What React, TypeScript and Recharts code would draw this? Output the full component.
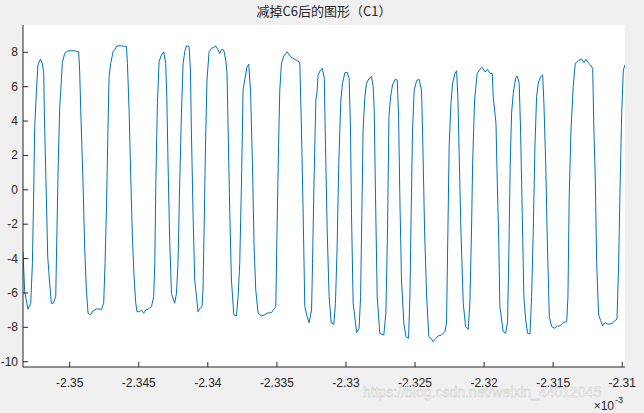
import { CartesianGrid, Line, LineChart, XAxis, YAxis } from "recharts";

// time axis in units of 1e-3 (as MATLAB shows it with the x10^-3 exponent)
const time = [
  -2.35338, -2.35326, -2.35302, -2.35282, -2.3527, -2.35261, -2.35254, -2.35241, -2.3523, -2.35212,
  -2.35198, -2.35188, -2.35183, -2.35169, -2.35159, -2.35145, -2.35133, -2.35118, -2.35101, -2.35092,
  -2.35082, -2.35072, -2.3506, -2.35053, -2.35036, -2.35012, -2.34964, -2.34935, -2.34928, -2.3492,
  -2.34904, -2.34891, -2.34879, -2.34867, -2.3485, -2.34831, -2.34807, -2.3477, -2.34754, -2.34744,
  -2.34734, -2.34723, -2.34715, -2.34703, -2.34686, -2.34657, -2.34626, -2.34589, -2.34582, -2.3457,
  -2.34558, -2.34546, -2.34534, -2.34522, -2.34513, -2.34493, -2.34481, -2.34464, -2.3445, -2.34433,
  -2.34408, -2.34392, -2.34384, -2.34377, -2.3437, -2.34365, -2.34353, -2.34336, -2.34319, -2.34305,
  -2.34297, -2.34288, -2.34276, -2.34263, -2.3424, -2.34227, -2.34216, -2.34203, -2.34191, -2.34179,
  -2.34167, -2.34155, -2.34136, -2.34126, -2.34119, -2.34107, -2.34095, -2.34082, -2.34071, -2.34058,
  -2.34042, -2.34035, -2.34027, -2.34017, -2.34006, -2.33991, -2.33974, -2.33957, -2.33943, -2.33928,
  -2.33914, -2.33901, -2.33885, -2.3387, -2.33861, -2.33853, -2.33841, -2.33829, -2.33812, -2.33793,
  -2.33781, -2.33769, -2.33756, -2.33745, -2.33733, -2.33716, -2.33704, -2.33691, -2.33677, -2.33665,
  -2.33653, -2.33636, -2.33612, -2.33588, -2.33571, -2.33539, -2.33522, -2.33508, -2.33499, -2.33488,
  -2.33479, -2.33467, -2.3345, -2.33426, -2.33401, -2.3337, -2.33334, -2.33322, -2.3331, -2.33298,
  -2.33281, -2.33267, -2.33249, -2.33242, -2.33231, -2.33218, -2.33209, -2.33202, -2.33184, -2.33171,
  -2.33157, -2.33148, -2.33136, -2.33122, -2.33107, -2.33088, -2.33076, -2.33064, -2.33052, -2.33037,
  -2.33025, -2.33008, -2.32992, -2.32977, -2.32967, -2.3296, -2.32948, -2.32936, -2.32923, -2.32905,
  -2.32894, -2.32885, -2.32876, -2.32863, -2.32851, -2.32832, -2.32815, -2.32803, -2.32796, -2.32786,
  -2.32774, -2.32755, -2.32726, -2.32711, -2.32699, -2.32689, -2.32677, -2.32663, -2.32644, -2.32629,
  -2.32619, -2.3261, -2.32598, -2.32581, -2.32566, -2.32547, -2.32537, -2.32528, -2.32518, -2.32506,
  -2.32489, -2.3247, -2.32453, -2.32443, -2.32431, -2.32416, -2.324, -2.32385, -2.32369, -2.32349,
  -2.32332, -2.32308, -2.32284, -2.32272, -2.32262, -2.32253, -2.3224, -2.32228, -2.32211, -2.32199,
  -2.3219, -2.3218, -2.32168, -2.32151, -2.32134, -2.32115, -2.32103, -2.32091, -2.32083, -2.32069,
  -2.3205, -2.3203, -2.32014, -2.31994, -2.31975, -2.31958, -2.31941, -2.31934, -2.31914, -2.31905,
  -2.31893, -2.31886, -2.31873, -2.31862, -2.31844, -2.3183, -2.3182, -2.31811, -2.31801, -2.31789,
  -2.31772, -2.3176, -2.31746, -2.31736, -2.31724, -2.31712, -2.31699, -2.31685, -2.31668, -2.31656,
  -2.31644, -2.31632, -2.3162, -2.31608, -2.31591, -2.31576, -2.31567, -2.31554, -2.31543, -2.31528,
  -2.31511, -2.31487, -2.31471, -2.31451, -2.31427, -2.31402, -2.31393, -2.31384, -2.31371, -2.31355,
  -2.3134, -2.31318, -2.31294, -2.31277, -2.31263, -2.31243, -2.31229, -2.31214, -2.31205, -2.31195,
  -2.31185, -2.31171, -2.31156, -2.31142, -2.31125, -2.31108, -2.31089, -2.31069, -2.31053, -2.31038,
  -2.31026, -2.31016, -2.31004, -2.30992, -2.3098,
];

const volts = [
  -3.6, -5.9, -6.95, -6.6, -4.3, -0.4, 3.5, 5.7, 7.26, 7.6,
  7.36, 6.78, 4.25, -0.4, -3.9, -5.44, -6.6, -6.6, -6.2, -2.3,
  1.9, 4.8, 6.4, 7.4, 7.94, 8.09, 8.09, 8.03, 6.97, 4.64,
  0.57, -3.5, -5.83, -7.18, -7.28, -7.05, -6.93, -6.95, -6.6, -4.28,
  -1.18, 3.48, 6.58, 7.36, 8.03, 8.37, 8.38, 8.33, 7.36, 4.64,
  0.76, -2.73, -5.06, -6.57, -7.09, -7.09, -6.99, -7.18, -6.99, -6.95,
  -6.8, -6.22, -4.28, 0, 3.09, 5.03, 7.45, 7.84, 8.03, 7.36,
  5.42, 1.54, -3.0, -6.05, -6.6, -6.02, -4.28, 0.57, 4.45, 7.36,
  8.03, 8.37, 8.35, 6.97, 3.48, -1.37, -5.25, -6.22, -7.09, -6.9,
  -6.8, -5.83, -2.34, 2.51, 6.39, 8.03, 8.23, 8.29, 8.37, 8.17,
  7.94, 8.17, 8.13, 7.55, 6.78, 3.48, -1.37, -5.25, -7.28, -7.34,
  -6.22, -4.28, 0.57, 5.8, 6.39, 7.16, 7.32, 5.8, 1.54, -3.31,
  -5.83, -7.18, -7.34, -7.28, -7.18, -7.14, -6.95, -6.8, -2.34, 2.51,
  5.8, 7.36, 7.78, 8.03, 7.74, 7.59, 7.42, 3.48, -1.37, -6.8,
  -7.38, -7.73, -6.99, -4.28, 0.57, 5.22, 5.71, 6.68, 6.97, 7.07,
  6.5, 2.51, -2.34, -6.22, -7.73, -7.83, -6.6, -3.31, 1.54, 5.22,
  6.2, 6.81, 6.84, 6.49, 3.48, -1.37, -6.6, -7.38, -8.31, -8.06,
  -6.22, -1.37, 3.48, 5.42, 6.2, 6.49, 6.58, 6.0, 4.83, -0.4,
  -6.22, -8.35, -8.45, -7.18, -2.34, 4.25, 5.42, 6.1, 6.43, 6.39,
  4.25, -0.4, -5.25, -7.77, -8.54, -8.64, -6.22, -1.37, 3.48, 5.8,
  6.35, 6.43, 5.8, 2.51, -2.34, -6.22, -8.54, -8.64, -8.83, -8.64,
  -8.5, -8.45, -8.25, -7.77, -2.34, 2.51, 5.03, 6.2, 6.78, 6.93,
  5.42, 1.93, -2.34, -6.6, -7.96, -8.12, -6.6, -2.34, 1.54, 5.22,
  6.78, 7.01, 7.13, 6.87, 7.01, 6.78, 6.78, 5.42, 3.87, 0.57,
  -3.31, -6.8, -7.57, -8.25, -8.35, -7.67, -3.31, 1.54, 4.45, 5.61,
  6.49, 6.62, 6.2, 3.48, -1.37, -6.22, -7.57, -8.35, -8.39, -6.22,
  -2.34, 2.51, 5.42, 6.2, 6.58, 6.68, 5.03, 1.54, -2.73, -7.38,
  -7.96, -8.06, -7.92, -7.92, -7.73, -7.67, -6.22, -0.4, 3.48, 6.0,
  7.36, 7.51, 7.61, 7.4, 7.59, 7.36, 7.26, 7.07, 3.48, 0.57,
  -4.28, -7.28, -7.61, -7.92, -7.73, -7.81, -7.81, -7.73, -7.61, -7.53,
  -4.28, 0, 4.45, 6.97, 7.26,
];

const xTicks = [-2.35, -2.345, -2.34, -2.335, -2.33, -2.325, -2.32, -2.315, -2.31];
const yTicks = [-10, -8, -6, -4, -2, 0, 2, 4, 6, 8];
const xDomain = [-2.35338, -2.3098];
const yDomain = [-10.31, 9.59];

const title = "减掉C6后的图形（C1）";
const watermark = "https://blog.csdn.net/weixin_44012045";

const data = time.map((t, i) => ({ t, v: volts[i] }));

const AX = "#262626";
const FONT = "'Liberation Sans', Arial, Helvetica, sans-serif";
const TICK_LEN = 5;

function fmt(v: number) {
  return String(Number(v.toFixed(4)));
}

function BottomTick({ x, y, payload }: any) {
  return (
    <g>
      <line x1={x} x2={x} y1={y} y2={y - TICK_LEN} stroke={AX} strokeWidth={1} />
      <text x={x} y={y + 20} textAnchor="middle" fontSize={12} fontFamily={FONT} fill={AX}>
        {fmt(payload.value)}
      </text>
    </g>
  );
}

function TopTick({ x, y }: any) {
  return <line x1={x} x2={x} y1={y} y2={y + TICK_LEN} stroke={AX} strokeWidth={1} />;
}

function LeftTick({ x, y, payload }: any) {
  return (
    <g>
      <line x1={x} x2={x + TICK_LEN} y1={y} y2={y} stroke={AX} strokeWidth={1} />
      <text x={x - 5} y={y + 4} textAnchor="end" fontSize={12} fontFamily={FONT} fill={AX}>
        {payload.value}
      </text>
    </g>
  );
}

function RightTick({ x, y }: any) {
  return <line x1={x} x2={x - TICK_LEN} y1={y} y2={y} stroke={AX} strokeWidth={1} />;
}

function ExponentLabel({ viewBox }: any) {
  const right = viewBox.x + viewBox.width;
  const base = viewBox.y + 43;
  return (
    <g fontFamily={FONT} fill={AX}>
      <text x={right - 11} y={base} textAnchor="end" fontSize={12}>
        ×10
      </text>
      <text x={right - 10} y={base - 7} fontSize={9}>
        -3
      </text>
    </g>
  );
}

export default function App() {
  return (
    <div
      style={{
        position: "absolute",
        left: 0,
        top: 0,
        width: 644,
        height: 413,
        background: "#f0f0f0",
        overflow: "hidden",
      }}
    >
      <div
        style={{
          position: "absolute",
          left: 0,
          top: 3,
          width: 648,
          textAlign: "center",
          fontFamily: "'Noto Sans CJK SC', sans-serif",
          fontSize: 13,
          lineHeight: "16px",
          color: AX,
        }}
      >
        {title}
      </div>
      <LineChart
        width={644}
        height={413}
        data={data}
        margin={{ top: 25, right: 19, left: 0, bottom: 0 }}
      >
        <CartesianGrid horizontal={false} vertical={false} fill="#ffffff" />
        <XAxis
          dataKey="t"
          type="number"
          domain={xDomain}
          ticks={xTicks}
          allowDataOverflow
          height={46}
          tickSize={0}
          tickMargin={0}
          tickLine={false}
          axisLine={{ stroke: AX }}
          tick={BottomTick}
          interval={0}
          label={<ExponentLabel />}
        />
        <XAxis
          xAxisId="top"
          orientation="top"
          type="number"
          domain={xDomain}
          ticks={xTicks}
          allowDataOverflow
          height={0}
          tickSize={0}
          tickMargin={0}
          tickLine={false}
          axisLine={{ stroke: AX }}
          tick={TopTick}
          interval={0}
        />
        <YAxis
          type="number"
          domain={yDomain}
          ticks={yTicks}
          allowDataOverflow
          width={23}
          tickSize={0}
          tickMargin={0}
          tickLine={false}
          axisLine={{ stroke: AX }}
          tick={LeftTick}
          interval={0}
        />
        <YAxis
          yAxisId="right"
          orientation="right"
          type="number"
          domain={yDomain}
          ticks={yTicks}
          allowDataOverflow
          width={0}
          tickSize={0}
          tickMargin={0}
          tickLine={false}
          axisLine={{ stroke: AX }}
          tick={RightTick}
          interval={0}
        />
        <Line
          type="linear"
          dataKey="v"
          stroke="#0072bd"
          strokeWidth={1}
          dot={false}
          isAnimationActive={false}
        />
      </LineChart>
      <div
        style={{
          position: "absolute",
          left: 363,
          top: 384,
          fontFamily: FONT,
          fontSize: 14,
          color: "#fbfbfb",
          WebkitTextStroke: "0.4px #c4c4c4",
          whiteSpace: "nowrap",
          pointerEvents: "none",
        }}
      >
        {watermark}
      </div>
    </div>
  );
}
